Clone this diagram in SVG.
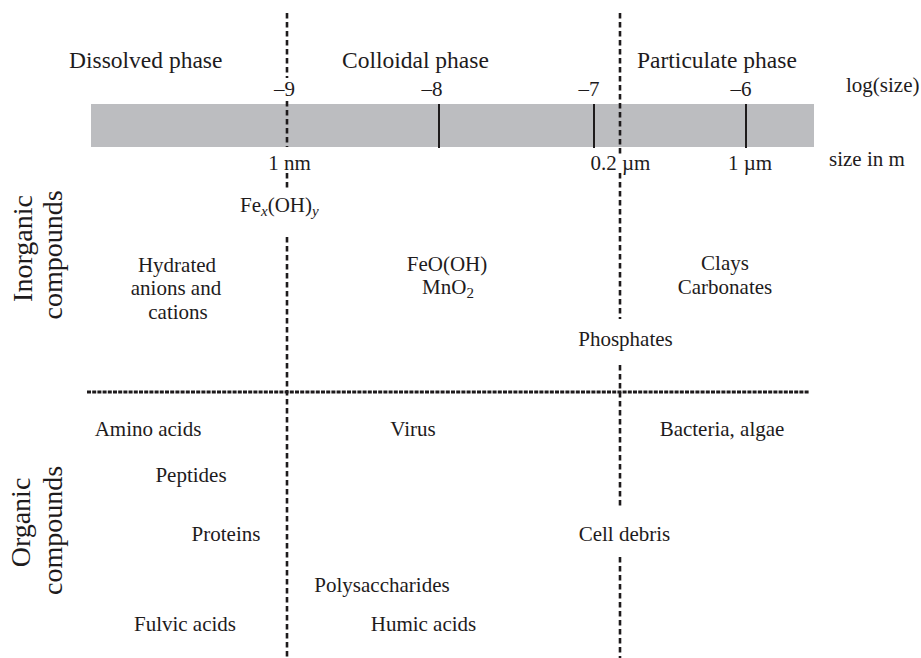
<svg xmlns="http://www.w3.org/2000/svg" width="921" height="658" viewBox="0 0 921 658">
  <style>
    text { font-family: "Liberation Serif", "Times New Roman", serif; fill: #1e1b1c; }
    .lbl { font-size: 21px; }
    .phase { font-size: 23.5px; }
    .side { font-size: 28px; }
    .mid { text-anchor: middle; }
    .sub { font-size: 15px; }
    .vdash { stroke: #1e1b1c; stroke-width: 2.6; stroke-dasharray: 5.5 3.5; fill: none; }
    .hdash { stroke: #1e1b1c; stroke-width: 3; stroke-dasharray: 4 1.2; fill: none; }
    .tick { stroke: #1e1b1c; stroke-width: 2; }
  </style>

  <!-- size scale bar -->
  <g id="scale">
    <rect x="91" y="104" width="723" height="43" fill="#bcbdc0"/>
    <line class="tick" x1="439" y1="104" x2="439" y2="148"/>
    <line class="tick" x1="594" y1="104" x2="594" y2="148"/>
    <line class="tick" x1="746" y1="104" x2="746" y2="148"/>
    <text class="lbl mid" x="284.5" y="96">–9</text>
    <text class="lbl mid" x="432" y="96">–8</text>
    <text class="lbl mid" x="589" y="96">–7</text>
    <text class="lbl mid" x="741" y="96">–6</text>
    <text class="lbl" x="846" y="92">log(size)</text>
    <text class="lbl mid" x="289.5" y="170">1 nm</text>
    <text class="lbl" x="590.5" y="170">0.2 µm</text>
    <text class="lbl mid" x="750" y="170">1 µm</text>
    <text class="lbl" x="829" y="166">size in m</text>
  </g>

  <!-- phase headings -->
  <g id="dissolved"><text class="phase" x="69" y="68">Dissolved phase</text></g>
  <g id="colloidal"><text class="phase" x="342" y="68">Colloidal phase</text></g>
  <g id="particulate"><text class="phase" x="637" y="68">Particulate phase</text></g>

  <!-- row headings -->
  <g id="inorganic">
    <text class="side mid" transform="translate(32,248.5) rotate(-90)">Inorganic</text>
    <text class="side mid" transform="translate(62,255) rotate(-90)">compounds</text>
  </g>
  <g id="organic">
    <text class="side mid" transform="translate(30,522.5) rotate(-90)">Organic</text>
    <text class="side mid" transform="translate(62,530.5) rotate(-90)">compounds</text>
  </g>

  <!-- inorganic compounds -->
  <g id="fexoh"><text class="lbl" x="240" y="212">Fe<tspan class="sub" font-style="italic" dy="4">x</tspan><tspan dy="-4">(OH)</tspan><tspan class="sub" font-style="italic" dy="4">y</tspan></text></g>
  <g id="hydrated">
    <text class="lbl mid" x="177" y="272">Hydrated</text>
    <text class="lbl mid" x="176" y="295">anions and</text>
    <text class="lbl mid" x="178" y="319">cations</text>
  </g>
  <g id="oxides">
    <text class="lbl mid" x="447" y="271">FeO(OH)</text>
    <text class="lbl mid" x="448" y="294">MnO<tspan class="sub" dy="4">2</tspan></text>
  </g>
  <g id="clays">
    <text class="lbl mid" x="725" y="270">Clays</text>
    <text class="lbl mid" x="725" y="294">Carbonates</text>
  </g>
  <g id="phosphates"><text class="lbl mid" x="625.5" y="346">Phosphates</text></g>

  <!-- organic compounds -->
  <g id="amino"><text class="lbl mid" x="148" y="436">Amino acids</text></g>
  <g id="virus"><text class="lbl mid" x="413" y="436">Virus</text></g>
  <g id="bacteria"><text class="lbl mid" x="722" y="436">Bacteria, algae</text></g>
  <g id="peptides"><text class="lbl mid" x="191" y="482">Peptides</text></g>
  <g id="proteins"><text class="lbl mid" x="226" y="541">Proteins</text></g>
  <g id="debris"><text class="lbl mid" x="624.5" y="541">Cell debris</text></g>
  <g id="polysaccharides"><text class="lbl mid" x="382" y="592">Polysaccharides</text></g>
  <g id="fulvic"><text class="lbl mid" x="185" y="631">Fulvic acids</text></g>
  <g id="humic"><text class="lbl mid" x="423.5" y="631">Humic acids</text></g>

  <!-- boundary lines -->
  <g id="connectors">
    <path class="vdash" d="M287 13V78 M287 101V147 M287 173V188 M287 237V658"/>
    <path class="vdash" d="M620 13V156 M620 173V319 M620 365V508 M620 557V658"/>
    <path class="hdash" d="M87 392H809"/>
  </g>
</svg>
